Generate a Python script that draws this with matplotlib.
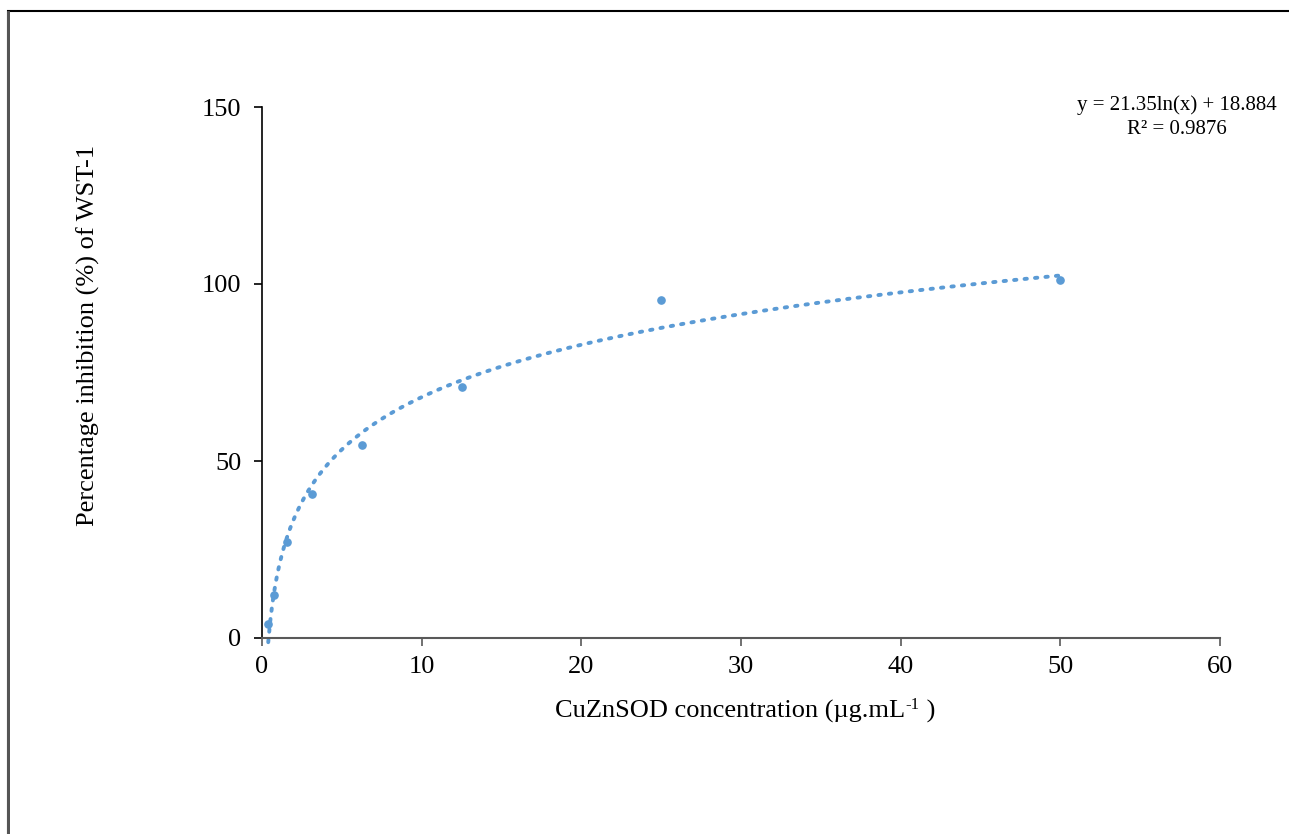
import numpy as np
import matplotlib
matplotlib.use("Agg")
import matplotlib.pyplot as plt
from matplotlib.patches import Rectangle

# Data
conc = [0.390625, 0.78125, 1.5625, 3.125, 6.25, 12.5, 25, 50]
inhibition = [3.9, 12.1, 27.1, 40.7, 54.5, 70.9, 95.5, 101.1]
fit_a, fit_b = 21.35, 18.884
x_ticks = [0, 10, 20, 30, 40, 50, 60]
y_ticks = [0, 50, 100, 150]

plt.rcParams['font.family'] = ['Liberation Serif', 'DejaVu Serif']
color = '#5B9BD5'

fig = plt.figure(figsize=(12.89, 8.34), dpi=100)
W, H = 1289, 834
fig.patches.append(Rectangle((8 / W, -0.1), 1.2, 1 - 11 / H + 0.1, transform=fig.transFigure,
                             fill=False, edgecolor='#000000', linewidth=1.5))
fig.patches.append(Rectangle((8 / W, -0.1), 0.0, 1 - 11 / H + 0.1, transform=fig.transFigure,
                             fill=False, edgecolor='#555555', linewidth=2.0))

ax = fig.add_axes([262 / W, 1 - 638 / H, (1220 - 262) / W, (638 - 107) / H])

xs = np.linspace(conc[0], conc[-1], 400)
ax.plot(xs, fit_a * np.log(xs) + fit_b, linestyle=(0, (0.6, 2.1)), color=color,
        linewidth=2.8, dash_capstyle='round', clip_on=False, zorder=2)
ax.plot(conc, inhibition, 'o', color=color, markersize=5.2, zorder=3, clip_on=False)

ax.set_xlim(0, 60)
ax.set_ylim(0, 150)
ax.set_xticks(x_ticks)
ax.set_yticks(y_ticks)
ax.spines['top'].set_visible(False)
ax.spines['right'].set_visible(False)
ax.spines['bottom'].set_color('#595959')
ax.spines['bottom'].set_linewidth(1.5)
ax.spines['left'].set_color('#000000')
ax.spines['left'].set_linewidth(1.2)
ax.tick_params(axis='x', direction='out', length=6, width=1.2, color='#595959',
               labelsize=19, pad=7)
ax.tick_params(axis='y', direction='out', length=6, width=1.2, color='#000000',
               labelsize=19, pad=9)

# x label composed of pieces (superscript uses a plain hyphen)
fig.canvas.draw()
renderer = fig.canvas.get_renderer()
main = 'CuZnSOD concentration (µg.mL'
sup = '-1'
tail = ' )'
tmp = fig.text(0, 0, main, fontsize=19)
w_main = tmp.get_window_extent(renderer).width
tmp.remove()
tmp = fig.text(0, 0, sup, fontsize=12)
w_sup = tmp.get_window_extent(renderer).width
tmp.remove()
tmp = fig.text(0, 0, tail, fontsize=19)
w_tail = tmp.get_window_extent(renderer).width
tmp.remove()
total = w_main + w_sup + w_tail
x0 = 745 - total / 2
ybase = 1 - 718 / H
fig.text(x0 / W, ybase, main, fontsize=19, ha='left', va='baseline')
fig.text((x0 + w_main + 0.5) / W, ybase + 9 / H, sup, fontsize=12, ha='left', va='baseline')
fig.text((x0 + w_main + w_sup + 1) / W, ybase, tail, fontsize=19, ha='left', va='baseline')

fig.text(88 / W, 1 - 335 / H, 'Percentage inhibition (%) of WST-1', rotation=90,
         ha='center', va='center', fontsize=19)
fig.text(1177 / W, 1 - 105 / H, 'y = 21.35ln(x) + 18.884', ha='center', va='center', fontsize=15)
fig.text(1177 / W, 1 - 129 / H, 'R² = 0.9876', ha='center', va='center', fontsize=15)

fig.savefig('out.png', dpi=100)
